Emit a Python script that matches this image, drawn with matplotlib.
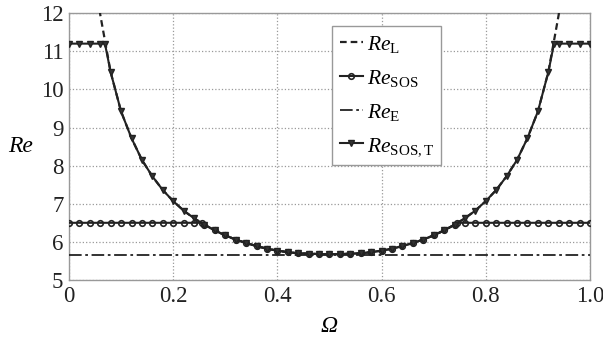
import numpy as np
import matplotlib
matplotlib.use('Agg')
import matplotlib.pyplot as plt

plt.rcParams['font.family'] = 'Liberation Serif'
plt.rcParams['mathtext.fontset'] = 'custom'
plt.rcParams['mathtext.rm'] = 'Liberation Serif'
plt.rcParams['mathtext.it'] = 'Liberation Serif:italic'

# curve values (left half, symmetric about 0.5)
om_half = [0.08, 0.10, 0.12, 0.14, 0.16, 0.18, 0.20, 0.22, 0.24, 0.26, 0.28,
           0.30, 0.32, 0.34, 0.36, 0.38, 0.40, 0.42, 0.44, 0.46, 0.48, 0.50]
re_half = [10.45, 9.42, 8.72, 8.15, 7.72, 7.36, 7.07, 6.82, 6.62, 6.45, 6.30,
           6.17, 6.06, 5.97, 5.89, 5.82, 5.77, 5.73, 5.70, 5.69, 5.68, 5.68]

# Re_L (dashed)
om_L = [0.04, 0.06] + om_half + [1 - w for w in om_half[::-1][1:]] + [0.94, 0.96]
re_L = [14.5, 11.96] + re_half + re_half[::-1][1:] + [11.96, 14.5]

# Re_SOS,T (triangles)
om_T = [0.0, 0.02, 0.04, 0.06, 0.069] + om_half + [1 - w for w in om_half[::-1][1:]] + [0.931, 0.94, 0.96, 0.98, 1.0]
re_T = [11.2, 11.2, 11.2, 11.2, 11.2] + re_half + re_half[::-1][1:] + [11.2, 11.2, 11.2, 11.2, 11.2]

# Re_SOS (circles)
om_flat_l = [0.0, 0.02, 0.04, 0.06, 0.08, 0.10, 0.12, 0.14, 0.16, 0.18, 0.20, 0.22, 0.24]
om_mid = [0.26, 0.28, 0.30, 0.32, 0.34, 0.36, 0.38, 0.40, 0.42, 0.44, 0.46, 0.48, 0.50]
re_mid = [6.45, 6.30, 6.17, 6.06, 5.97, 5.89, 5.82, 5.77, 5.73, 5.70, 5.69, 5.68, 5.68]
om_S = om_flat_l + [0.256] + om_mid + [1 - w for w in om_mid[::-1][1:]] + [0.744] + [1 - w for w in om_flat_l[::-1]]
re_S = [6.5] * len(om_flat_l) + [6.5] + re_mid + re_mid[::-1][1:] + [6.5] + [6.5] * len(om_flat_l)

# Re_E
re_E = 5.66

fig = plt.figure(figsize=(6.03, 3.43), dpi=100)
ax = fig.add_axes([0.1144, 0.1837, 0.864, 0.778])

ax.plot(om_L, re_L, color='#222222', lw=1.6, ls=(0, (3, 1.8)), label=r'$\mathit{Re}_{\mathrm{L}}$', zorder=3)
ax.plot(om_S, re_S, color='#222222', lw=1.5, marker='o', ms=4, mfc='none', mew=1.2,
        label=r'$\mathit{Re}_{\mathrm{SOS}}$', zorder=4)
ax.axhline(re_E, color='#222222', lw=1.3, ls=(0, (7, 2, 1.5, 2)), label=r'$\mathit{Re}_{\mathrm{E}}$', zorder=3)
ax.plot(om_T, re_T, color='#222222', lw=1.5, marker='v', ms=5, mfc='#333333', mew=1.0,
        label=r'$\mathit{Re}_{\mathrm{SOS,T}}$', zorder=5)

ax.set_xlim(0, 1)
ax.set_ylim(5, 12)
ax.set_xticks([0, 0.2, 0.4, 0.6, 0.8, 1.0])
ax.set_xticklabels(['0', '0.2', '0.4', '0.6', '0.8', '1.0'])
ax.set_yticks(range(5, 13))
ax.tick_params(length=0, labelsize=16.5, pad=4, colors='#222222')
ax.grid(True, ls=':', color='#999999', lw=0.9)
for s in ax.spines.values():
    s.set_color('#999999')
    s.set_linewidth(1.0)

ax.set_ylabel('Re', fontsize=17, fontstyle='italic', rotation=0)
ax.yaxis.set_label_coords(-0.092, 0.46)
ax.set_xlabel('Ω', fontsize=17, fontstyle='italic')
ax.xaxis.set_label_coords(0.50, -0.135)

leg = ax.legend(loc='upper left', bbox_to_anchor=(0.505, 0.95), fontsize=15.5, fancybox=False,
                framealpha=1, edgecolor='#999999', handlelength=1.1, handletextpad=0.15,
                borderpad=0.35, labelspacing=0.6, borderaxespad=0)
leg.get_frame().set_linewidth(1.0)

fig.savefig('out.png', dpi=100)
